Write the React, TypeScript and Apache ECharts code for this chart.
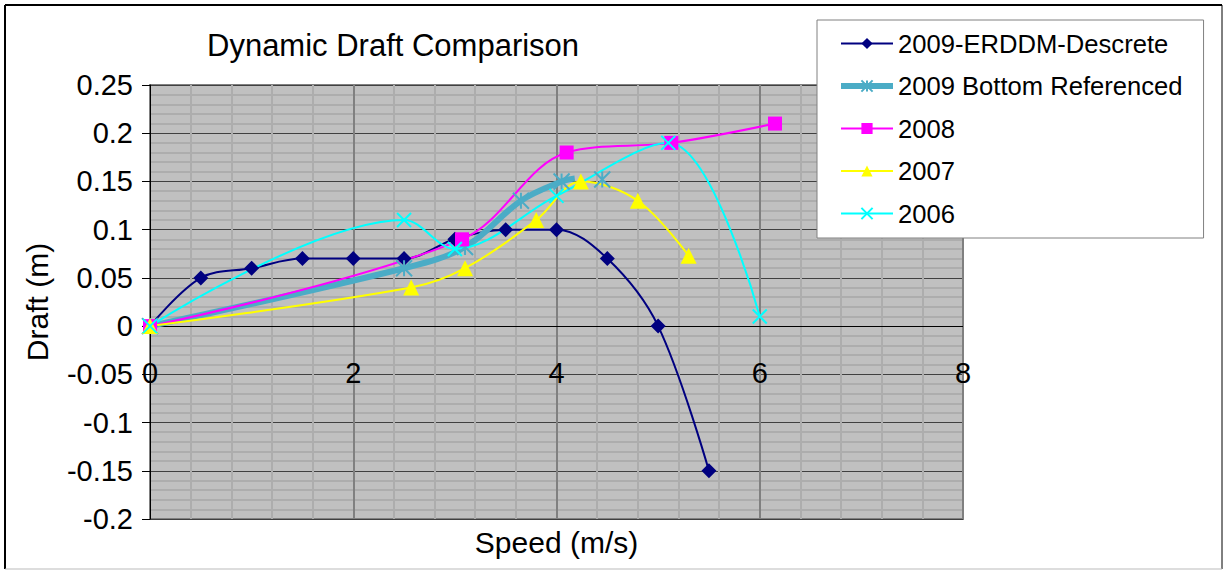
import React, { useEffect, useRef } from "react";
import * as echarts from "echarts";

const seriesNames = [
  "2009-ERDDM-Descrete",
  "2009 Bottom Referenced",
  "2008",
  "2007",
  "2006",
];

const erddmX = [0, 0.5, 1, 1.5, 2, 2.5, 3, 3.5, 4, 4.5, 5, 5.5];
const erddmY = [0, 0.05, 0.06, 0.07, 0.07, 0.07, 0.09, 0.1, 0.1, 0.07, 0, -0.15];

const bottomX = [0, 2.5, 3.1, 3.65, 4.05, 4.18];
const bottomY = [0, 0.06, 0.082, 0.13, 0.15, 0.153];
const bottomExtraX = [4.45];
const bottomExtraY = [0.152];

const y2008X = [0, 3.07, 4.1, 5.13, 6.15];
const y2008Y = [0, 0.09, 0.18, 0.19, 0.21];

const y2007X = [0, 2.57, 3.1, 3.8, 4.24, 4.8, 5.3];
const y2007Y = [0, 0.04, 0.06, 0.11, 0.15, 0.13, 0.073];

const y2006X = [0, 2.5, 3.0, 4.0, 5.1, 6.0];
const y2006Y = [0, 0.11, 0.08, 0.135, 0.19, 0.01];

const zip = (xs: number[], ys: number[]) => xs.map((x, i) => [x, ys[i]]);

const STAR = "path://M0,0L10,10M10,0L0,10M5,0L5,10";
const XMARK = "path://M0,0L10,10M10,0L0,10";
const FONT = "'Liberation Sans', Arial, sans-serif";
const SMOOTH = 0.35;

export default function App() {
  const ref = useRef<HTMLDivElement>(null);
  useEffect(() => {
    if (!ref.current) return;
    const chart = echarts.init(ref.current, undefined, { renderer: "svg" });

    const bottomData: any[] = zip(bottomX, bottomY).map((p, i) =>
      i === bottomX.length - 1 ? { value: p, symbol: "none" } : p
    );
    bottomData.push("-");
    zip(bottomExtraX, bottomExtraY).forEach((p) => bottomData.push(p));

    const option: any = {
      animation: false,
      backgroundColor: "#ffffff",
      textStyle: { fontFamily: FONT },
      title: {
        text: "Dynamic Draft Comparison",
        left: 207,
        top: 30,
        padding: 0,
        textStyle: { fontSize: 31, fontWeight: "normal", color: "#000", fontFamily: FONT },
      },
      legend: {
        orient: "vertical",
        left: 817,
        top: 20,
        padding: [10, 21, 11, 21],
        backgroundColor: "#ffffff",
        borderColor: "#808080",
        borderWidth: 1,
        itemWidth: 52,
        itemHeight: 14,
        itemGap: 15.5,
        textStyle: { fontSize: 25.6, color: "#000", lineHeight: 27, fontFamily: FONT },
        data: seriesNames.map((n, i) =>
          i === 1 ? { name: n, lineStyle: { width: 6, color: "#4BACC6" } } : { name: n }
        ),
      },
      grid: {
        left: 150,
        top: 85,
        width: 813,
        height: 434,
        show: true,
        backgroundColor: "#C0C0C0",
        borderColor: "#808080",
        borderWidth: 2,
        outerBoundsMode: "none",
        containLabel: false,
      },
      xAxis: {
        type: "value",
        min: 0,
        max: 8,
        interval: 2,
        name: "Speed (m/s)",
        nameLocation: "middle",
        nameGap: 8,
        nameTextStyle: { fontSize: 30, color: "#000", fontFamily: FONT },
        axisLine: { show: false, onZero: false },
        axisTick: { show: false },
        axisLabel: {
          fontSize: 29,
          color: "#000",
          margin: -161,
          fontFamily: FONT,
          showMinLabel: true,
          showMaxLabel: true,
          hideOverlap: false,
        },
        splitLine: { show: true, lineStyle: { color: "#808080", width: 2 } },
        minorTick: { show: false, splitNumber: 5 },
        minorSplitLine: { show: true, lineStyle: { color: "#ADADAD", width: 2 } },
      },
      yAxis: {
        type: "value",
        min: -0.2,
        max: 0.25,
        interval: 0.05,
        name: "Draft (m)",
        nameLocation: "middle",
        nameGap: 98,
        nameTextStyle: { fontSize: 30, color: "#000", fontFamily: FONT },
        axisLine: { onZero: false, lineStyle: { color: "#000", width: 1 } },
        axisTick: { show: true, length: 8, lineStyle: { color: "#000" } },
        axisLabel: {
          fontSize: 29,
          color: "#000",
          margin: 17,
          fontFamily: FONT,
          showMinLabel: true,
          showMaxLabel: true,
          hideOverlap: false,
          formatter: (v: number) => String(Math.round(v * 100) / 100),
        },
        splitLine: { show: true, lineStyle: { color: "#404040", width: 1 } },
        minorTick: { show: false, splitNumber: 5 },
        minorSplitLine: { show: true, lineStyle: { color: "#ADADAD", width: 2 } },
      },
      graphic: [
        { type: "line", shape: { x1: 5, y1: 5, x2: 1222, y2: 5 }, style: { stroke: "#000", lineWidth: 2 }, z: 100 },
        { type: "line", shape: { x1: 5, y1: 5, x2: 5, y2: 569 }, style: { stroke: "#000", lineWidth: 2 }, z: 100 },
        { type: "line", shape: { x1: 1222, y1: 5, x2: 1222, y2: 569 }, style: { stroke: "#000", lineWidth: 1 }, z: 100 },
        { type: "line", shape: { x1: 5, y1: 569, x2: 1222, y2: 569 }, style: { stroke: "#bbb", lineWidth: 1 }, z: 100 },
      ],
      series: [
        {
          name: seriesNames[0],
          type: "line",
          smooth: SMOOTH,
          data: zip(erddmX, erddmY),
          symbol: "diamond",
          symbolSize: 15,
          lineStyle: { color: "#000080", width: 2 },
          itemStyle: { color: "#000080" },
          markLine: {
            silent: true,
            symbol: "none",
            label: { show: false },
            lineStyle: { color: "#000", width: 1, type: "solid" },
            data: [{ yAxis: 0 }],
            z: 1,
          },
        },
        {
          name: seriesNames[1],
          type: "line",
          smooth: SMOOTH,
          connectNulls: false,
          data: bottomData,
          symbol: STAR,
          symbolSize: 16,
          lineStyle: { color: "#4BACC6", width: 6 },
          itemStyle: { color: "#4BACC6", borderColor: "#4BACC6", borderWidth: 2 },
        },
        {
          name: seriesNames[2],
          type: "line",
          smooth: SMOOTH,
          data: zip(y2008X, y2008Y),
          symbol: "rect",
          symbolSize: 14,
          lineStyle: { color: "#FF00FF", width: 2 },
          itemStyle: { color: "#FF00FF" },
        },
        {
          name: seriesNames[3],
          type: "line",
          smooth: SMOOTH,
          data: zip(y2007X, y2007Y),
          symbol: "triangle",
          symbolSize: 16,
          lineStyle: { color: "#FFFF00", width: 2 },
          itemStyle: { color: "#FFFF00" },
        },
        {
          name: seriesNames[4],
          type: "line",
          smooth: SMOOTH,
          data: zip(y2006X, y2006Y),
          symbol: XMARK,
          symbolSize: 14,
          lineStyle: { color: "#00FFFF", width: 2 },
          itemStyle: { color: "#00FFFF", borderColor: "#00FFFF", borderWidth: 2 },
        },
      ],
    };
    chart.setOption(option);
    return () => chart.dispose();
  }, []);
  return (
    <div
      ref={ref}
      style={{ position: "absolute", left: 0, top: 0, width: 1225, height: 571 }}
    />
  );
}
